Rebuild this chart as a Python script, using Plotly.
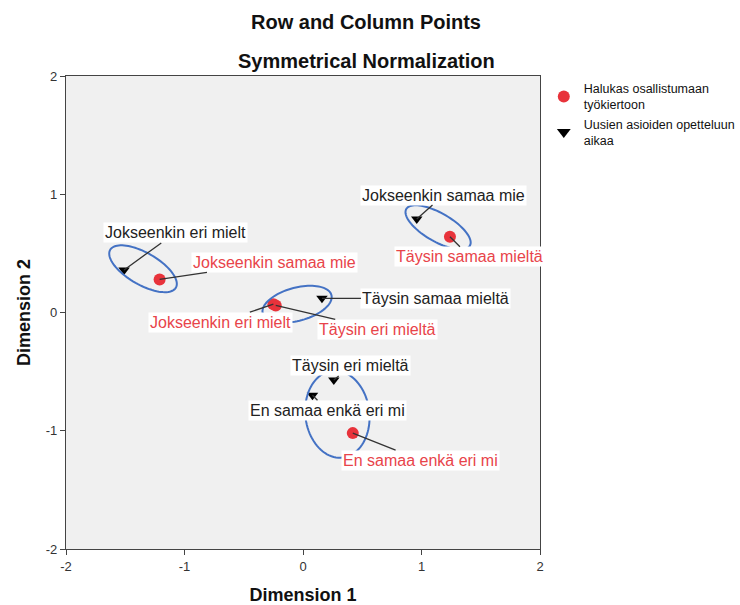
import numpy as np
import plotly.graph_objects as go

# Category labels (shared by both variables)
categories = ["Täysin eri mieltä", "Jokseenkin eri mielt", "En samaa enkä eri mi",
              "Jokseenkin samaa mie", "Täysin samaa mieltä"]

# Row points: Halukas osallistumaan työkiertoon
row_name = "Halukas osallistumaan<br>työkiertoon"
row_dim1 = [-0.23, -0.25, 0.42, -1.21, 1.24]
row_dim2 = [0.06, 0.07, -1.02, 0.28, 0.64]

# Column points: Uusien asioiden opetteluun aikaa
col_name = "Uusien asioiden opetteluun<br>aikaa"
col_dim1 = [0.26, -1.51, 0.08, 0.96, 0.16]
col_dim2 = [-0.57, 0.36, -0.70, 0.79, 0.12]

axis_ticks = [-2, -1, 0, 1, 2]

# Label offsets (pixels) for the point labels
row_offsets = [(102, 24), (-53, 18), (68, 27), (115, -17), (20, 20)]
col_offsets = [(17, -14), (51, -37), (15, 15), (27, -24), (114, 0)]

# Highlight ellipses: centre, semi-axes and rotation (degrees)
groups = [
    dict(cx=-1.35, cy=0.37, a=0.32, b=0.135, ang=-30),
    dict(cx=1.14, cy=0.72, a=0.31, b=0.12, ang=-30),
    dict(cx=-0.05, cy=0.07, a=0.30, b=0.14, ang=15),
    dict(cx=0.29, cy=-0.86, a=0.37, b=0.27, ang=-83),
]

RED = "#E8333B"
FONT = "Liberation Sans, Arial, sans-serif"

fig = go.Figure()
fig.add_trace(go.Scatter(
    x=row_dim1, y=row_dim2, mode="markers", name=row_name,
    marker=dict(symbol="circle", size=12, color=RED),
))
fig.add_trace(go.Scatter(
    x=col_dim1, y=col_dim2, mode="markers", name=col_name,
    marker=dict(symbol="triangle-down", size=10, color="black"),
))


def ellipse_path(cx, cy, a, b, ang, n=90):
    t = np.linspace(0, 2 * np.pi, n)
    th = np.deg2rad(ang)
    xs = cx + a * np.cos(t) * np.cos(th) - b * np.sin(t) * np.sin(th)
    ys = cy + a * np.cos(t) * np.sin(th) + b * np.sin(t) * np.cos(th)
    pts = [f"{x:.4f},{y:.4f}" for x, y in zip(xs, ys)]
    return "M " + " L ".join(pts) + " Z"


for g in groups:
    fig.add_shape(type="path", xref="x", yref="y",
                  path=ellipse_path(g["cx"], g["cy"], g["a"], g["b"], g["ang"]),
                  line=dict(color="#4472C4", width=2))


def add_labels(xs, ys, offsets, color):
    for lab, x, y, (ax, ay) in zip(categories, xs, ys, offsets):
        fig.add_annotation(
            x=x, y=y, text=lab, showarrow=True, ax=ax, ay=ay,
            arrowhead=0, arrowwidth=1.3, arrowcolor="#333333", standoff=0,
            bgcolor="white", borderpad=1,
            font=dict(family=FONT, size=16, color=color),
        )


add_labels(row_dim1, row_dim2, row_offsets, "#E8444A")
add_labels(col_dim1, col_dim2, col_offsets, "#222222")

# Two-line title
fig.add_annotation(text="<b>Row and Column Points</b>", xref="paper", yref="paper",
                   x=0.633, y=1.0, yshift=67, showarrow=False,
                   font=dict(family=FONT, size=20, color="#111111"))
fig.add_annotation(text="<b>Symmetrical Normalization</b>", xref="paper", yref="paper",
                   x=0.633, y=1.0, yshift=28, showarrow=False,
                   font=dict(family=FONT, size=20, color="#111111"))

axis_common = dict(
    range=[-2, 2], tickvals=axis_ticks, ticktext=[str(v) for v in axis_ticks],
    showgrid=False, zeroline=False, showline=True, mirror=True,
    linecolor="#444444", linewidth=1.3, ticks="outside", ticklen=5,
    tickcolor="#444444", tickfont=dict(family=FONT, size=13, color="#333333"),
)

fig.update_layout(
    width=740, height=605,
    margin=dict(l=66, r=200, t=76, b=56, autoexpand=False),
    paper_bgcolor="white", plot_bgcolor="#F0F0F0",
    font=dict(family=FONT),
    xaxis=dict(axis_common, title=dict(text="<b>Dimension 1</b>", standoff=20,
                                       font=dict(family=FONT, size=18, color="#111111"))),
    yaxis=dict(axis_common, title=dict(text="<b>Dimension 2</b>", standoff=10,
                                       font=dict(family=FONT, size=18, color="#111111"))),
    legend=dict(x=1.008, y=1.005, xanchor="left", yanchor="top",
                font=dict(family=FONT, size=12.5, color="#111111"),
                tracegroupgap=0, itemsizing="constant", bgcolor="rgba(0,0,0,0)"),
    showlegend=True,
)

fig.write_html("out.html")
